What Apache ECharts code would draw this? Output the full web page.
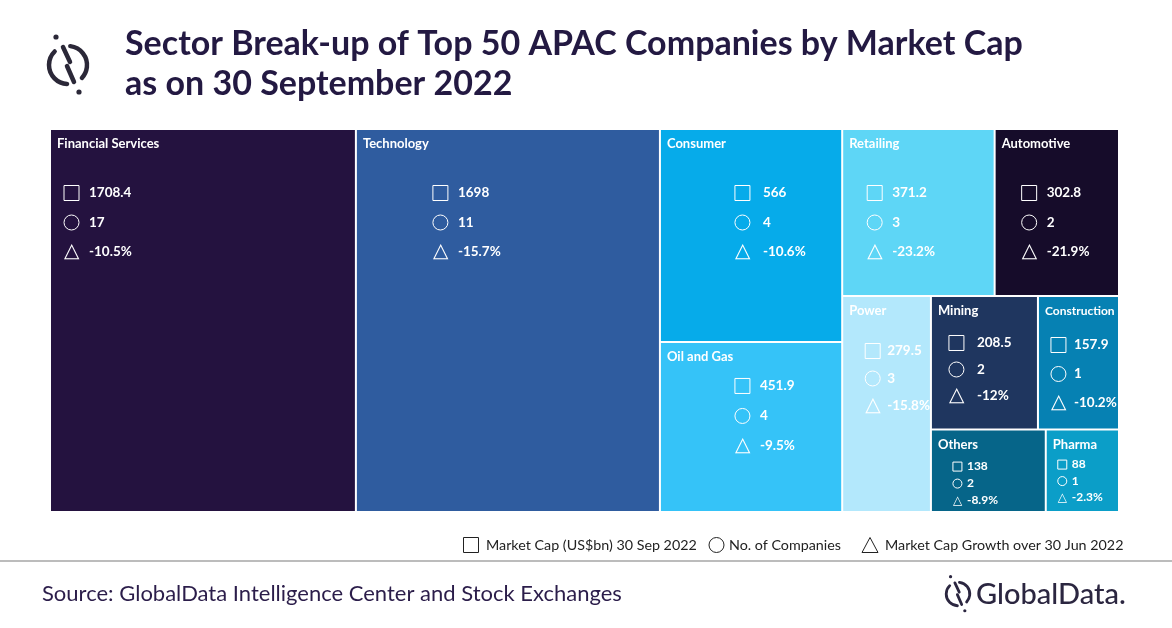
<!DOCTYPE html>
<html><head><meta charset="utf-8">
<script src="https://cdn.jsdelivr.net/npm/echarts@6/dist/echarts.min.js"></script>
<style>html,body{margin:0;padding:0;background:#fff}#c{width:1172px;height:628px}</style>
</head><body><div id="c"></div>
<script>
// ---- data ----
const sectors = ['Financial Services','Technology','Consumer','Oil and Gas','Retailing','Automotive','Power','Mining','Construction','Others','Pharma'];
const marketCap = [1708.4, 1698, 566, 451.9, 371.2, 302.8, 279.5, 208.5, 157.9, 138, 88];
const companies = [17, 11, 4, 4, 3, 2, 3, 2, 1, 2, 1];
const growth = [-10.5, -15.7, -10.6, -9.5, -23.2, -21.9, -15.8, -12, -10.2, -8.9, -2.3];
const legendLabels = ['Market Cap (US$bn) 30 Sep 2022', 'No. of Companies', 'Market Cap Growth over 30 Jun 2022'];
const titleLines = ['Sector Break-up of Top 50 APAC Companies by Market Cap', 'as on 30 September 2022'];
const sourceText = 'Source: GlobalData Intelligence Center and Stock Exchanges';

// ---- styles ----
const colors = ['#24123f','#2f5c9f','#06abea','#35c3f8','#5ed6f6','#160c2a','#b3e8fc','#1f365f','#0681b3','#066589','#0b9ec8'];
// dx: block left from cell left, r1: first row centre from cell top, lh: row spacing
const cellStyle = [
  {dx:13, r1:63, lh:29.5, gap:10},
  {dx:76, r1:63, lh:29.5, gap:10},
  {dx:74, r1:63, lh:29.5, gap:13},
  {dx:74, r1:43, lh:30, gap:10},
  {dx:24, r1:63, lh:29.5, gap:10},
  {dx:26, r1:63, lh:29.5, gap:10},
  {dx:22, r1:54, lh:27.5, gap:7},
  {dx:17, r1:46, lh:26.5, gap:13},
  {dx:12, r1:48, lh:29, gap:8, nameSize:12},
  {dx:21, r1:36, lh:17, gap:5, small:true},
  {dx:11, r1:34, lh:16.5, gap:5, small:true}
];
const FONT = 'Lato';
const rich = {};
cellStyle.forEach((s, i) => {
  const sz = s.small ? 9 : 15;
  const fs = s.small ? 12 : 13.5;
  rich['n' + i] = {fontFamily: FONT, fontWeight: 'bold', fontSize: s.nameSize || 13, color: '#fff', lineHeight: 18};
  rich['sp' + i] = {fontSize: 1, lineHeight: Math.max(1, s.r1 - 23 - s.lh / 2)};
  rich['p' + i] = {fontSize: 1, width: s.dx - 6, lineHeight: s.lh};
  rich['s' + i] = {fontSize: 1, width: sz, height: sz, borderColor: '#fff', borderWidth: 1, lineHeight: s.lh};
  rich['c' + i] = {fontSize: 1, width: sz, height: sz, borderRadius: sz / 2 + 1, borderColor: '#fff', borderWidth: 1, lineHeight: s.lh};
  rich['t' + i] = {fontFamily: 'DejaVu Sans', fontSize: s.small ? 12 : 20, width: sz, color: '#fff', lineHeight: s.lh};
  rich['g' + i] = {fontSize: 1, width: s.gap, lineHeight: s.lh};
  rich['v' + i] = {fontFamily: FONT, fontWeight: 'bold', fontSize: fs, color: '#fff', lineHeight: s.lh};
});

function fmt(p) {
  const i = sectors.indexOf(p.name);
  if (i < 0) return '';
  const row = (sym, val, ch) => '{p' + i + '| }{' + sym + i + '|' + ch + '}{g' + i + '| }{v' + i + '|' + val + '}';
  return [
    '{n' + i + '|' + p.name + '}',
    '{sp' + i + '| }',
    row('s', marketCap[i], ' '),
    row('c', companies[i], ' '),
    row('t', growth[i] + '%', '△')
  ].join('\n');
}

const data = sectors.map((name, i) => ({name, value: marketCap[i], itemStyle: {color: colors[i]}}));

// ---- logo helper ----
function logo(cx, cy, k, color) {
  const lw = 4.5 * k;
  return [
    {type:'arc', shape:{cx, cy, r:19*k, startAngle: -2.35, endAngle: 1.62, clockwise:false}, style:{stroke:color, lineWidth:lw, fill:null, lineCap:'round'}},
    {type:'arc', shape:{cx, cy, r:19*k, startAngle: -1.45, endAngle: 0.75, clockwise:true}, style:{stroke:color, lineWidth:lw, fill:null, lineCap:'round'}},
    {type:'polyline', shape:{points:[[cx-5*k, cy-18*k],[cx+2*k, cy-3*k]]}, style:{stroke:color, lineWidth:lw, lineCap:'round'}},
    {type:'polyline', shape:{points:[[cx-1*k, cy+1*k],[cx+6*k, cy+17*k]]}, style:{stroke:color, lineWidth:lw, lineCap:'round'}},
    {type:'circle', shape:{cx:cx-12*k, cy:cy-28*k, r:2.6*k}, style:{fill:color}},
    {type:'circle', shape:{cx:cx+11*k, cy:cy+27*k, r:2.6*k}, style:{fill:color}}
  ];
}

const chart = echarts.init(document.getElementById('c'), null, {renderer:'canvas'});
const legendY = 545;
const option = {
  animation: false,
  backgroundColor: '#fff',
  graphic: [
    ...logo(68, 65, 1, '#2b2838'),
    {type:'text', left:125, top:27, style:{text:titleLines[0], font:'bold 34px Lato', fill:'#231942'}},
    {type:'text', left:125, top:67, style:{text:titleLines[1], font:'bold 34px Lato', fill:'#231942'}},
    {type:'rect', shape:{x:463.5, y:537.5, width:15, height:15}, style:{fill:null, stroke:'#222', lineWidth:1}},
    {type:'text', x:486, y:legendY, style:{text:legendLabels[0], font:'14.3px Lato', fill:'#222', verticalAlign:'middle'}},
    {type:'circle', shape:{cx:716.5, cy:legendY, r:7.5}, style:{fill:null, stroke:'#222', lineWidth:1}},
    {type:'text', x:729, y:legendY, style:{text:legendLabels[1], font:'14.3px Lato', fill:'#222', verticalAlign:'middle'}},
    {type:'polygon', shape:{points:[[862,552.5],[878,552.5],[870,537.5]]}, style:{fill:null, stroke:'#222', lineWidth:1}},
    {type:'text', x:885, y:legendY, style:{text:legendLabels[2], font:'14.3px Lato', fill:'#222', verticalAlign:'middle'}},
    {type:'line', shape:{x1:0, y1:561, x2:1172, y2:561}, style:{stroke:'#a6a6a6', lineWidth:1.5}},
    {type:'text', x:42, y:594, style:{text:sourceText, font:'22px Lato', fill:'#2b1d4a', verticalAlign:'middle'}},
    ...logo(958, 594, 0.62, '#2b2640'),
    {type:'text', x:976, y:595, style:{text:'GlobalData.', font:'500 29px Lato', fill:'#2b2640', verticalAlign:'middle'}}
  ],
  series: [{
    type: 'treemap',
    left: 51, top: 130, width: 1067, height: 381,
    roam: false, nodeClick: false,
    breadcrumb: {show: false},
    squareRatio: 0.823,
    sort: 'desc',
    label: {show: true, position: 'insideTopLeft', overflow: 'none', padding: [5, 4, 0, 6], formatter: fmt, rich},
    upperLabel: {show: false},
    itemStyle: {gapWidth: 2, borderWidth: 0, borderColor: '#fff'},
    levels: [{itemStyle: {gapWidth: 2, borderWidth: 0}}],
    emphasis: {disabled: true},
    data
  }]
};
chart.setOption(option);
</script>
</body></html>
